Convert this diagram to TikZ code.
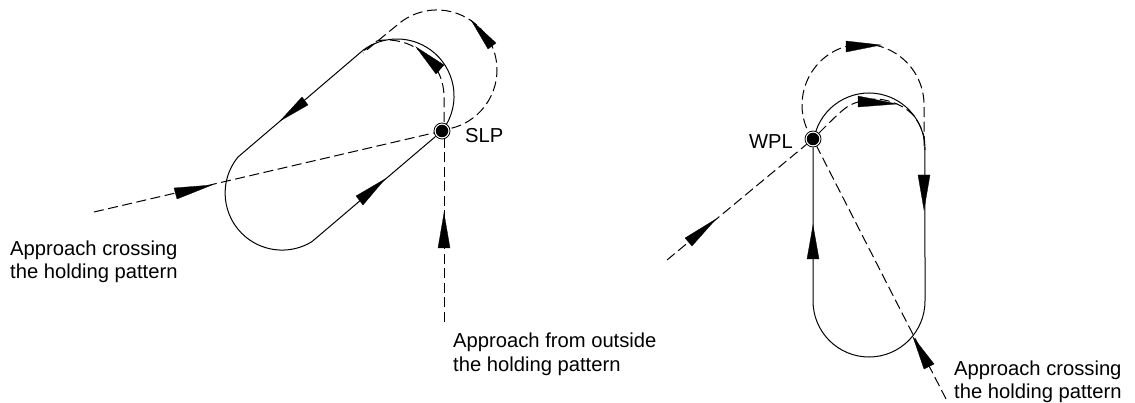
\documentclass[tikz,border=0pt]{standalone}
\usepackage{fontspec}
\setmainfont{Liberation Sans}
\tikzset{
  solidpath/.style={draw=black,line width=1pt},
  dashpath/.style={draw=black,line width=1pt,dash pattern=on 10pt off 4.5pt},
  head/.style={fill=black,draw=black,line width=0.3pt,line join=miter},
  ring/.style={circle,draw=black,line width=0.8pt,fill=white,minimum size=16pt,inner sep=0pt},
  dot/.style={circle,fill=black,minimum size=12.5pt,inner sep=0pt},
  lbl/.style={font=\fontsize{20.2}{23}\selectfont,inner sep=0pt,align=left,text=black}
}
\begin{document}
\begin{tikzpicture}[x=1pt,y=-1pt]
\useasboundingbox (0,0) rectangle (1135,403);
% --- points
\node[ring] (slp) at (442,131) {};
\node[dot] (slpdot) at (slp) {};
\node[ring] (wpl) at (813,139) {};
\node[dot] (wpldot) at (wpl) {};
\coordinate (appA) at (94,212);
\coordinate (appB) at (444,322);
\coordinate (appC) at (667,260);
\coordinate (appD) at (946,399);
% --- left pattern
\draw[solidpath] (446.4,124.5) arc[start angle=390,end angle=233.5,radius=57]
   -- (238,157) arc[start angle=219.3,end angle=58.5,radius=57] -- (slp);
\draw[dashpath] (appA) -- (slp);
\draw[dashpath] (appB) -- (appB |- slp.south);
\draw[dashpath] (444,122) -- (444,97) arc[start angle=0,end angle=-100,radius=57] -- (362,52);
\draw[dashpath] (451.5,128.2) arc[start angle=76,end angle=-130,radius=60] -- (363,53);
% --- right pattern
\draw[solidpath] (815.7,131.7) arc[start angle=198,end angle=360,radius=56]
   -- (925,301) arc[start angle=0,end angle=180,radius=56] -- (wpl);
\draw[dashpath] (appC) -- (wpl);
\draw[dashpath] (appD) -- (wpl);
\draw[dashpath] plot[smooth,tension=.6] coordinates {(819,133) (843,110) (858,102) (877,99) (897,104) (913,115) (923,133) (925,150)};
\draw[dashpath] (806.6,128.1) arc[start angle=157.7,end angle=360,radius=61] -- (924,150);
% --- arrowheads, left
\filldraw[head] (471,20) -- (496,43) -- (488,49) -- cycle;
\filldraw[head] (416,47) -- (444,65) -- (436,74) -- cycle;
\filldraw[head] (280,121) -- (302,97) -- (308,105) -- cycle;
\filldraw[head] (385,179) -- (356,196) -- (363,205) -- cycle;
\filldraw[head] (212,185) -- (174,188) -- (177,199) -- cycle;
\filldraw[head] (444,213) -- (438,248) -- (450,248) -- cycle;
% --- arrowheads, right
\filldraw[head] (881,45) -- (846,41) -- (846,52) -- cycle;
\filldraw[head] (897,104) -- (858,96) -- (858,107) -- cycle;
\filldraw[head] (924,210) -- (918,175) -- (930,175) -- cycle;
\filldraw[head] (813,225) -- (807,259) -- (819,259) -- cycle;
\filldraw[head] (716,219) -- (685,238) -- (692,246) -- cycle;
\filldraw[head] (913,337) -- (934,364) -- (924,369) -- cycle;
% --- labels
\node[lbl,anchor=base west] (slptext) at (465,143) {SLP};
\node[lbl,anchor=base east] (wpltext) at (793,149) {WPL};
\node[lbl,anchor=base west] (t1a) at (10,256) {Approach crossing};
\node[lbl,anchor=base west] (t1b) at (10,279) {the holding pattern};
\node[lbl,anchor=base west] (t2a) at (453,347) {Approach from outside};
\node[lbl,anchor=base west] (t2b) at (453,371) {the holding pattern};
\node[lbl,anchor=base west] (t3a) at (954,375) {Approach crossing};
\node[lbl,anchor=base west] (t3b) at (954,398) {the holding pattern};
\end{tikzpicture}
\end{document}
